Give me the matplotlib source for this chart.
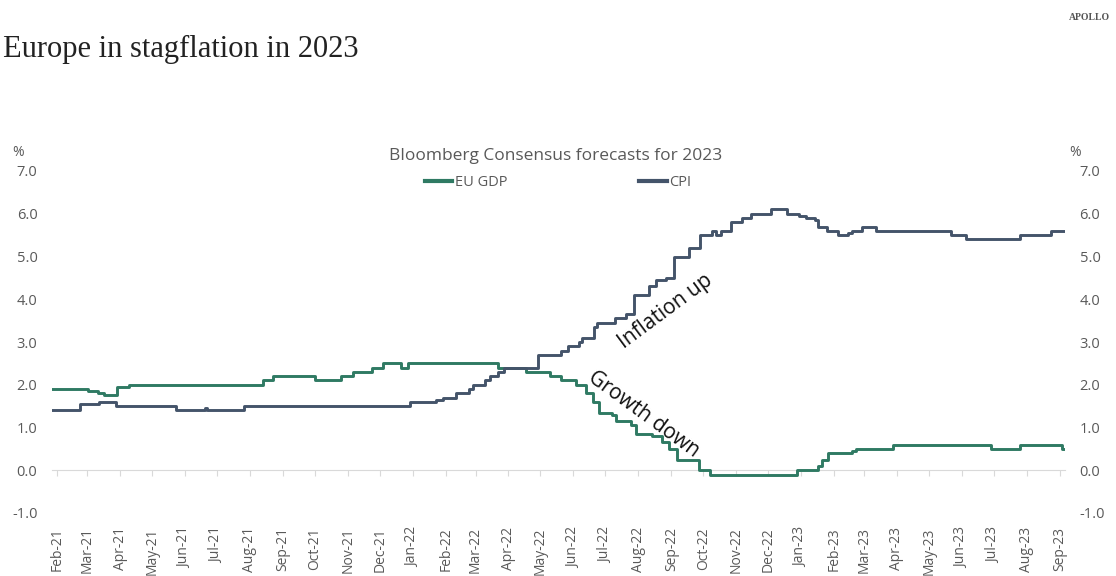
#Europe in stagflation in 2023 - Bloomberg consensus forecasts
import pandas as pd
import numpy as np
from matplotlib import pyplot as plt
import matplotlib.dates as mdates

plt.rcParams['font.family'] = ['Open Sans', 'DejaVu Sans']

#Dates where the consensus forecast changed, and the new value
gdp_dates = ['2021-01-27', '2021-03-02', '2021-03-11', '2021-03-17', '2021-03-29',
    '2021-04-09', '2021-08-13', '2021-08-23', '2021-10-01', '2021-10-26',
    '2021-11-06', '2021-11-24', '2021-12-04', '2021-12-21', '2021-12-28',
    '2022-03-22', '2022-04-17', '2022-05-10', '2022-05-20', '2022-06-03',
    '2022-06-13', '2022-06-19', '2022-06-25', '2022-07-07', '2022-07-11',
    '2022-07-25', '2022-07-30', '2022-08-14', '2022-08-23', '2022-08-30',
    '2022-09-06', '2022-09-27', '2022-10-07', '2022-12-28', '2023-01-17',
    '2023-01-21', '2023-01-26', '2023-02-18', '2023-02-22', '2023-03-28',
    '2023-06-28', '2023-07-26', '2023-09-03', '2023-09-06']
gdp_vals = [1.9, 1.85, 1.8, 1.75, 1.95,
    2.0, 2.1, 2.2, 2.1, 2.2,
    2.3, 2.4, 2.5, 2.4, 2.5,
    2.4, 2.3, 2.2, 2.1, 2.0,
    1.8, 1.6, 1.35, 1.3, 1.15,
    1.05, 0.85, 0.8, 0.65, 0.5,
    0.25, 0.0, -0.1, 0.0, 0.1,
    0.25, 0.4, 0.45, 0.5, 0.6,
    0.5, 0.6, 0.5, 0.5]

cpi_dates = ['2021-01-27', '2021-02-22', '2021-03-12', '2021-03-28', '2021-05-24',
    '2021-06-20', '2021-06-22', '2021-07-26', '2021-12-29', '2022-01-23',
    '2022-01-29', '2022-02-11', '2022-02-23', '2022-02-27', '2022-03-10',
    '2022-03-15', '2022-03-22', '2022-03-28', '2022-04-29', '2022-05-20',
    '2022-05-27', '2022-06-06', '2022-06-09', '2022-06-20', '2022-06-23',
    '2022-07-10', '2022-07-20', '2022-07-28', '2022-08-11', '2022-08-18',
    '2022-08-27', '2022-09-04', '2022-09-18', '2022-09-28', '2022-10-09',
    '2022-10-13', '2022-10-18', '2022-10-27', '2022-11-06', '2022-11-15',
    '2022-12-04', '2022-12-19', '2022-12-30', '2023-01-06', '2023-01-14',
    '2023-01-17', '2023-01-25', '2023-02-05', '2023-02-14', '2023-02-18',
    '2023-02-27', '2023-03-12', '2023-05-22', '2023-06-05', '2023-07-26',
    '2023-08-24', '2023-09-06']
cpi_vals = [1.4, 1.55, 1.6, 1.5, 1.4,
    1.45, 1.4, 1.5, 1.6, 1.65,
    1.7, 1.8, 1.9, 2.0, 2.1,
    2.2, 2.3, 2.4, 2.7, 2.8,
    2.9, 3.0, 3.1, 3.35, 3.45,
    3.55, 3.65, 4.1, 4.3, 4.45,
    4.5, 5.0, 5.2, 5.5, 5.6,
    5.5, 5.6, 5.8, 5.9, 6.0,
    6.1, 6.0, 5.95, 5.9, 5.85,
    5.7, 5.6, 5.5, 5.55, 5.6,
    5.7, 5.6, 5.5, 5.4, 5.5,
    5.6, 5.6]

yticks = [-1, 0, 1, 2, 3, 4, 5, 6, 7]

gdp_color = '#2f7a63'
cpi_color = '#44546a'
gray = '#595959'

fig = plt.figure(figsize=(11.16, 5.76), dpi=100)
ax = fig.add_axes([52/1116, 1 - 513/576, (1065 - 52)/1116, (513 - 171)/576])

ax.step(pd.to_datetime(gdp_dates), gdp_vals, where='post', color=gdp_color,
    linewidth=2.1, label='EU GDP', zorder=3)
ax.step(pd.to_datetime(cpi_dates), cpi_vals, where='post', color=cpi_color,
    linewidth=2.1, label='CPI', zorder=3)

ax.set_xlim(pd.Timestamp('2021-01-27'), pd.Timestamp('2023-09-06'))
ax.set_ylim(-1, 7)

#x axis sits on zero, labels pushed down below -1
for s in ['top', 'left', 'right']:
    ax.spines[s].set_visible(False)
ax.spines['bottom'].set_position(('data', 0))
ax.spines['bottom'].set_color('#d9d9d9')
ax.xaxis.set_major_locator(mdates.MonthLocator())
ax.xaxis.set_major_formatter(mdates.DateFormatter('%b-%y'))
ax.tick_params(axis='x', direction='out', length=4, color='#d9d9d9',
    labelsize=10, labelcolor=gray, labelrotation=90, pad=37)

ax.set_yticks(yticks)
ax.set_yticklabels(['%.1f' % v for v in yticks])
ax.tick_params(axis='y', left=False, right=False, labelleft=True, labelright=True,
    labelsize=10.5, labelcolor=gray, pad=7)

#Annotations
ax.text(pd.Timestamp('2022-08-27'), 3.72, 'Inflation up', rotation=36.5,
    rotation_mode='anchor', ha='center', va='center', fontsize=15,
    color='#111111')
ax.text(pd.Timestamp('2022-08-06'), 1.31, 'Growth down', rotation=-36,
    rotation_mode='anchor', ha='center', va='center', fontsize=15,
    color='#111111')

#Titles and legend
fig.text(3/1116, 1 - 57/576, 'Europe in stagflation in 2023', fontsize=22,
    family='Liberation Serif', color='#222222', va='baseline')
fig.text(1110/1116, 1 - 17/576, 'APOLLO', fontsize=7, family='Liberation Serif',
    color='#555555', ha='right', va='center', fontweight='bold')
fig.text(556/1116, 1 - 156/576, 'Bloomberg Consensus forecasts for 2023',
    fontsize=12.5, color=gray, ha='center', va='center')
fig.text(18/1116, 1 - 152/576, '%', fontsize=10, color=gray,
    ha='center', va='center')
fig.text(1075/1116, 1 - 152/576, '%', fontsize=10, color=gray,
    ha='center', va='center')

leg = fig.legend(loc='center', bbox_to_anchor=(558/1116, 1 - 183/576), ncol=2,
    frameon=False, handlelength=1.9, handletextpad=0.2, columnspacing=9.0,
    prop={'size': 10.5})
for t in leg.get_texts():
    t.set_color(gray)
for h in leg.get_lines():
    h.set_linewidth(3)

plt.savefig('out.png', dpi=100)
